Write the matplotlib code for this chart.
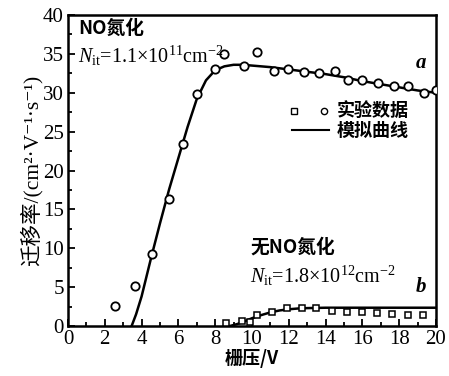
import matplotlib
matplotlib.use("Agg")
import matplotlib.pyplot as plt
from matplotlib.ticker import MultipleLocator

plt.rcParams['font.family'] = ['Liberation Serif', 'Noto Sans CJK SC', 'DejaVu Sans']
plt.rcParams['mathtext.fontset'] = 'custom'
plt.rcParams['mathtext.rm'] = 'Liberation Serif'
plt.rcParams['mathtext.it'] = 'Liberation Serif:italic'

# experimental data, NO nitrided (circles)
a_x = [2.55, 3.64, 4.55, 5.5, 6.23, 7.03, 7.99, 8.5, 9.58, 10.29, 11.2, 11.96,
       12.84, 13.66, 14.5, 15.23, 15.96, 16.87, 17.7, 18.5, 19.35, 20.0]
a_y = [2.6, 5.2, 9.3, 16.4, 23.4, 29.8, 33.0, 35.0, 33.5, 35.3, 32.8, 33.0,
       32.7, 32.6, 32.8, 31.6, 31.6, 31.3, 30.9, 30.9, 30.0, 30.3]
# simulated curve a
ca_x = [3.46, 3.7, 4.0, 4.5, 5.0, 5.5, 6.0, 6.5, 7.0, 7.5, 8.0, 8.5, 9.0, 9.5,
        10.0, 11.0, 12.0, 13.0, 14.0, 15.0, 16.0, 17.0, 18.0, 19.0, 20.0]
ca_y = [0.0, 1.5, 3.8, 8.6, 13.2, 17.6, 21.6, 25.6, 29.2, 31.6, 32.9, 33.4, 33.6,
        33.6, 33.5, 33.3, 33.0, 32.7, 32.4, 32.0, 31.5, 31.1, 30.7, 30.3, 30.0]
# experimental data, without NO nitridation (squares)
b_x = [8.59, 9.44, 9.9, 10.25, 11.07, 11.88, 12.7, 13.5, 14.33, 15.15, 15.96,
       16.78, 17.6, 18.5, 19.3]
b_y = [0.35, 0.64, 0.45, 1.41, 1.76, 2.27, 2.27, 2.27, 1.97, 1.84, 1.84, 1.71,
       1.54, 1.41, 1.41]
# simulated curve b
cb_x = [8.8, 9.2, 9.6, 10.0, 10.5, 11.0, 11.5, 12.0, 12.5, 13.0, 14.0, 16.0,
        18.0, 20.0]
cb_y = [0.0, 0.25, 0.6, 1.0, 1.4, 1.75, 2.0, 2.15, 2.25, 2.3, 2.35, 2.35,
        2.35, 2.35]

fig = plt.figure(figsize=(4.49, 3.76), dpi=100)
ax = fig.add_axes([0.1514, 0.133, 0.8196, 0.827])

ax.plot(ca_x, ca_y, color='black', lw=1.8, zorder=2)
ax.plot(cb_x, cb_y, color='black', lw=1.8, zorder=2)
ax.plot(a_x, a_y, 'o', ms=6, mfc='white', mec='black', mew=1.3, zorder=3)
ax.plot(b_x, b_y, 's', ms=4.5, mfc='white', mec='black', mew=1.1, zorder=3)

ax.set_xlim(0, 20)
ax.set_ylim(0, 40)
ax.xaxis.set_major_locator(MultipleLocator(2))
ax.xaxis.set_minor_locator(MultipleLocator(1))
ax.yaxis.set_major_locator(MultipleLocator(5))
ax.yaxis.set_minor_locator(MultipleLocator(2.5))
ax.tick_params(which='both', direction='in', top=False, right=False,
               labelsize=15, width=1.3, pad=3)
ax.tick_params(which='major', length=5)
ax.tick_params(which='minor', length=3)
for s in ax.spines.values():
    s.set_linewidth(1.8)

cjk = ['Noto Sans CJK SC', 'DejaVu Sans']
mix = ['Liberation Serif', 'Noto Sans CJK SC', 'DejaVu Sans']
ax.set_xlabel('栅压/V', fontsize=13, fontweight='bold', labelpad=0,
              family=cjk)
ax.set_ylabel('迁移率/(cm²·V⁻¹·s⁻¹)', fontsize=15.5, labelpad=0,
              family=mix)

ax.text(0.55, 38.3, 'NO氮化', fontsize=13.5, fontweight='bold', family=cjk,
        va='center')
ax.text(0.55, 34.8, r'$N_{\mathrm{it}}$=1.1×10$^{11}$cm$^{-2}$', fontsize=14.5,
        va='center')
ax.text(18.9, 33.8, 'a', fontsize=15, style='italic', fontweight='bold',
        va='center')
ax.text(9.9, 10.2, '无NO氮化', fontsize=13.5, fontweight='bold', family=cjk,
        va='center')
ax.text(9.9, 6.5, r'$N_{\mathrm{it}}$=1.8×10$^{12}$cm$^{-2}$', fontsize=14.5,
        va='center')
ax.text(18.9, 5.0, 'b', fontsize=15, style='italic', fontweight='bold',
        va='center')

# legend
ax.plot([12.3], [27.7], 's', ms=4, mfc='white', mec='black', mew=1.0)
ax.plot([13.9], [27.7], 'o', ms=4.5, mfc='white', mec='black', mew=1.0)
ax.text(14.6, 27.7, '实验数据', fontsize=13, fontweight='bold', family=cjk,
        va='center')
ax.plot([12.2, 14.2], [25.2, 25.2], color='black', lw=1.5)
ax.text(14.6, 25.2, '模拟曲线', fontsize=13, fontweight='bold', family=cjk,
        va='center')

fig.savefig('out.png', dpi=100)
